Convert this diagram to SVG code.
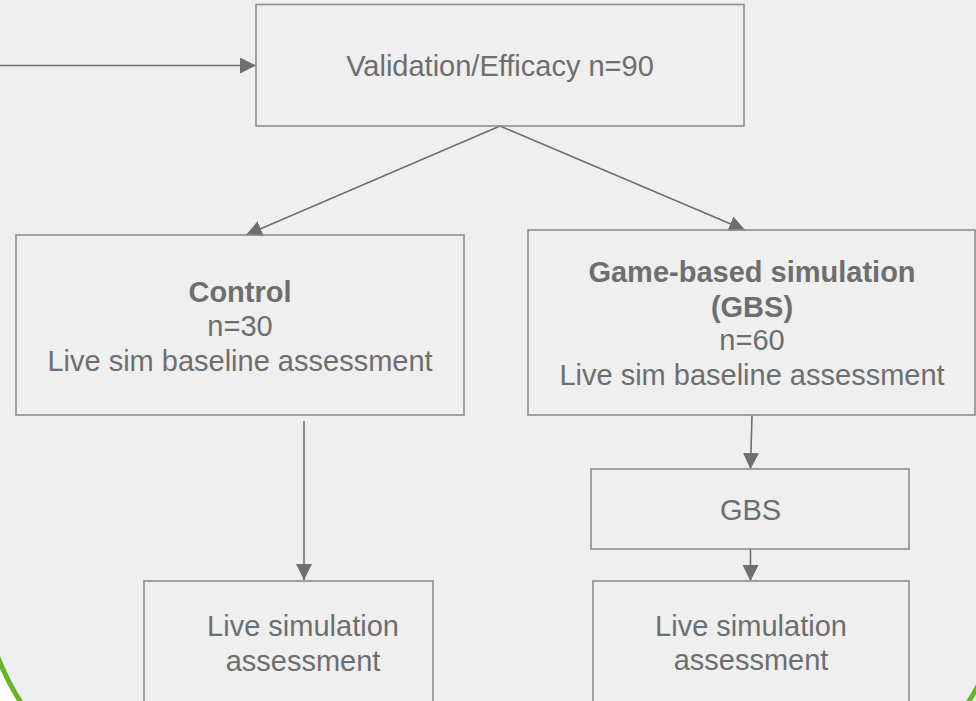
<svg xmlns="http://www.w3.org/2000/svg" width="976" height="701" viewBox="0 0 976 701">
<defs>
<style>
.box{fill:none;stroke:#8c8c8c;stroke-width:1.6}
.t{font-family:"Liberation Sans",Arial,sans-serif;font-size:29px;fill:#6e6e6e;text-anchor:middle}
.b{font-weight:bold}
.c{stroke:#6e6e6e;stroke-width:1.6;fill:none}
</style>
<marker id="ah" viewBox="0 0 16 16" refX="16" refY="8" markerWidth="16" markerHeight="16" markerUnits="userSpaceOnUse" orient="auto">
<path d="M0,0 L16,8 L0,16 Z" fill="#6e6e6e"/>
</marker>
</defs>
<rect x="0" y="0" width="976" height="701" fill="#ffffff"/>
<rect id="frame" x="-19" y="-400" width="1027" height="1217" rx="250" ry="250" fill="#efefef" stroke="#6ab42a" stroke-width="5"/>
<g id="connectors">
<line class="c" x1="0" y1="65.5" x2="256" y2="65.5" marker-end="url(#ah)"/>
<line class="c" x1="500" y1="126" x2="246" y2="235" marker-end="url(#ah)"/>
<line class="c" x1="500" y1="126" x2="745" y2="230" marker-end="url(#ah)"/>
<line class="c" x1="304" y1="421" x2="304" y2="580" marker-end="url(#ah)"/>
<line class="c" x1="752" y1="415" x2="750.5" y2="469" marker-end="url(#ah)"/>
<line class="c" x1="750.5" y1="549" x2="750.5" y2="581" marker-end="url(#ah)"/>
</g>
<g id="validation">
<rect class="box" x="256" y="4.5" width="488" height="121.5"/>
<text class="t" x="500" y="76">Validation/Efficacy n=90</text>
</g>
<g id="control">
<rect class="box" x="16" y="235" width="448" height="180"/>
<text class="t b" x="240" y="301.5">Control</text>
<text class="t" x="240" y="336">n=30</text>
<text class="t" x="240" y="370.5">Live sim baseline assessment</text>
</g>
<g id="gbs-group">
<rect class="box" x="528" y="230" width="447" height="185"/>
<text class="t b" x="752" y="281.5">Game-based simulation</text>
<text class="t b" x="752" y="316.5">(GBS)</text>
<text class="t" x="752" y="350">n=60</text>
<text class="t" x="752" y="385">Live sim baseline assessment</text>
</g>
<g id="gbs">
<rect class="box" x="591" y="469" width="318" height="80"/>
<text class="t" x="750.5" y="520">GBS</text>
</g>
<g id="live-control">
<rect class="box" x="144" y="581" width="289" height="140"/>
<text class="t" x="303" y="636">Live simulation</text>
<text class="t" x="303" y="670.5">assessment</text>
</g>
<g id="live-gbs">
<rect class="box" x="593" y="581" width="316" height="140"/>
<text class="t" x="751" y="635.5">Live simulation</text>
<text class="t" x="751" y="670">assessment</text>
</g>
</svg>
